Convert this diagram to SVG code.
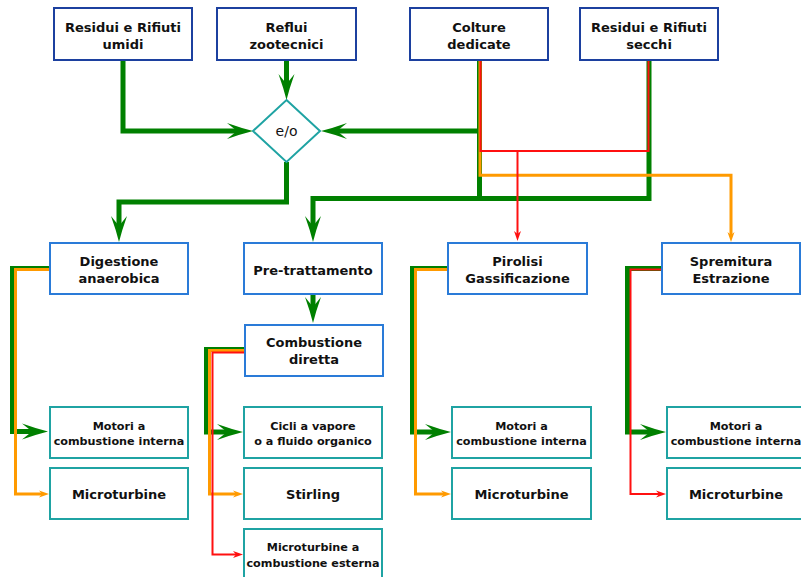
<svg xmlns="http://www.w3.org/2000/svg" width="801" height="577" viewBox="0 0 801 577">
<defs>
<style>
.src rect{fill:#fff;stroke:#1c409f;stroke-width:2}
.proc rect{fill:#fff;stroke:#2a7bd8;stroke-width:2}
.out rect{fill:#fff;stroke:#1fa3a3;stroke-width:2}
text{font-family:"DejaVu Sans","Verdana",sans-serif;font-weight:bold;fill:#111;text-anchor:middle}
.t13{font-size:13px}
.t11{font-size:11.2px}
.g{fill:none;stroke:#008000;stroke-width:5}
.o{fill:none;stroke:#ff9a00;stroke-width:3}
.r{fill:none;stroke:#ff1010;stroke-width:2}
</style>
<marker id="ag" markerUnits="userSpaceOnUse" markerWidth="28" markerHeight="18" refX="10" refY="9" orient="auto" overflow="visible">
<path d="M0,1 Q14,6 26,9 Q14,12 0,17 L10,9 Z" fill="#008000"/>
</marker>
<marker id="ao" markerUnits="userSpaceOnUse" markerWidth="11" markerHeight="8" refX="3" refY="4" orient="auto" overflow="visible">
<path d="M0,0.5 L10,4 L0,7.5 L3,4 Z" fill="#ff9a00"/>
</marker>
<marker id="ar" markerUnits="userSpaceOnUse" markerWidth="11" markerHeight="8" refX="3" refY="4" orient="auto" overflow="visible">
<path d="M0,0.5 L10,4 L0,7.5 L3,4 Z" fill="#ff1010"/>
</marker>
</defs>
<rect width="801" height="577" fill="#fff"/>

<g id="connectors">
<path class="g" d="M123,60 V131 H237" marker-end="url(#ag)"/>
<path class="g" d="M286.5,60 V84" marker-end="url(#ag)"/>
<path class="g" d="M479.5,131 H337" marker-end="url(#ag)"/>
<path class="g" d="M479.5,60 V198.5"/>
<path class="g" d="M649,60 V198.5 H313 V226" marker-end="url(#ag)"/>
<path class="g" d="M286.5,162 V202 H119 V226" marker-end="url(#ag)"/>
<path class="o" d="M480,60 V175.3 H731 V235" marker-end="url(#ao)"/>
<path class="r" d="M480.5,60 V151 H648.5 V60"/>
<path class="r" d="M517.5,151 V234" marker-end="url(#ar)"/>
<path class="g" d="M313,294 V307" marker-end="url(#ag)"/>
<path class="g" d="M50,268.5 H12.5 V431.5 H32" marker-end="url(#ag)"/>
<path class="o" d="M50,269.5 H15.5 V494 H42" marker-end="url(#ao)"/>
<path class="g" d="M245,349.5 H206.5 V432 H227" marker-end="url(#ag)"/>
<path class="o" d="M245,350.5 H209.5 V494 H236" marker-end="url(#ao)"/>
<path class="r" d="M245,352.5 H212.5 V554.5 H236" marker-end="url(#ar)"/>
<path class="g" d="M448,268.5 H412.5 V432 H435" marker-end="url(#ag)"/>
<path class="o" d="M448,269.5 H415.5 V494 H444" marker-end="url(#ao)"/>
<path class="g" d="M662,268.5 H627.5 V432 H650" marker-end="url(#ag)"/>
<path class="r" d="M662,269.5 H630.5 V494 H659" marker-end="url(#ar)"/>
</g>

<g id="n-residui-umidi" class="src"><rect x="54" y="8" width="138" height="52"/><text class="t13" x="123" y="32">Residui e Rifiuti</text><text class="t13" x="123" y="49">umidi</text></g>
<g id="n-reflui" class="src"><rect x="217" y="8" width="139" height="52"/><text class="t13" x="286.5" y="32">Reflui</text><text class="t13" x="286.5" y="49">zootecnici</text></g>
<g id="n-colture" class="src"><rect x="410" y="8" width="138" height="52"/><text class="t13" x="479" y="32">Colture</text><text class="t13" x="479" y="49">dedicate</text></g>
<g id="n-residui-secchi" class="src"><rect x="580" y="8" width="138" height="52"/><text class="t13" x="649" y="32">Residui e Rifiuti</text><text class="t13" x="649" y="49">secchi</text></g>

<g id="n-eo"><polygon points="286.5,100 320,131 286.5,162 253,131" fill="#fff" stroke="#1fa3a3" stroke-width="2"/><text x="286.5" y="136" style="font-weight:normal;font-size:14px">e/o</text></g>

<g id="n-digestione" class="proc"><rect x="50" y="243" width="138" height="51"/><text class="t13" x="119" y="265.5">Digestione</text><text class="t13" x="119" y="282.5">anaerobica</text></g>
<g id="n-pretratt" class="proc"><rect x="244" y="243" width="138" height="51"/><text class="t13" x="313" y="274.5">Pre-trattamento</text></g>
<g id="n-combustione" class="proc"><rect x="245" y="325" width="138" height="51"/><text class="t13" x="314" y="346.5">Combustione</text><text class="t13" x="314" y="364">diretta</text></g>
<g id="n-pirolisi" class="proc"><rect x="448" y="243" width="139" height="51"/><text class="t13" x="517.5" y="265.5">Pirolisi</text><text class="t13" x="517.5" y="282.5">Gassificazione</text></g>
<g id="n-spremitura" class="proc"><rect x="662" y="243" width="138" height="51"/><text class="t13" x="731" y="265.5">Spremitura</text><text class="t13" x="731" y="282.5">Estrazione</text></g>

<g id="n-motori1" class="out"><rect x="50" y="407" width="138" height="51"/><text class="t11" x="119" y="430">Motori a</text><text class="t11" x="119" y="445">combustione interna</text></g>
<g id="n-micro1" class="out"><rect x="50" y="468" width="138" height="51"/><text class="t13" x="119" y="499">Microturbine</text></g>
<g id="n-cicli" class="out"><rect x="244" y="407" width="138" height="51"/><text class="t11" x="313" y="430">Cicli a vapore</text><text class="t11" x="313" y="445">o a fluido organico</text></g>
<g id="n-stirling" class="out"><rect x="244" y="468" width="138" height="51"/><text class="t13" x="313" y="499">Stirling</text></g>
<g id="n-microest" class="out"><rect x="244" y="529" width="138" height="51"/><text class="t11" x="313" y="551">Microturbine a</text><text class="t11" x="313" y="566.5">combustione esterna</text></g>
<g id="n-motori2" class="out"><rect x="452" y="407" width="139" height="51"/><text class="t11" x="521.5" y="430">Motori a</text><text class="t11" x="521.5" y="445">combustione interna</text></g>
<g id="n-micro2" class="out"><rect x="452" y="468" width="139" height="51"/><text class="t13" x="521.5" y="499">Microturbine</text></g>
<g id="n-motori3" class="out"><rect x="667" y="407" width="138" height="51"/><text class="t11" x="736" y="430">Motori a</text><text class="t11" x="736" y="445">combustione interna</text></g>
<g id="n-micro3" class="out"><rect x="667" y="468" width="138" height="51"/><text class="t13" x="736" y="499">Microturbine</text></g>
</svg>
